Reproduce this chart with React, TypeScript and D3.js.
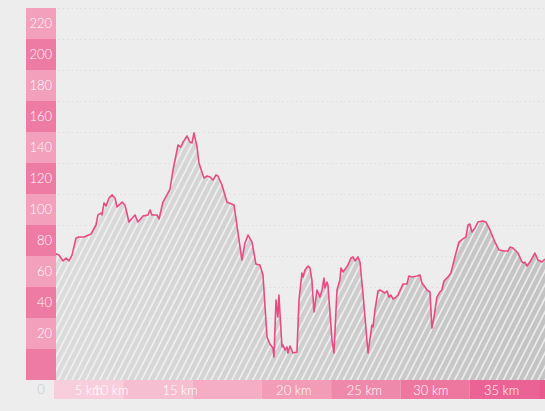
import React from 'react';
import * as d3 from 'd3';

// elevation profile: [distance, elevation]
const profile: [number, number][] = [
  [0, 81.9], [0.36, 80.6], [0.65, 76.8], [0.87, 78.7], [1.08, 76.8], [1.3, 80.6],
  [1.59, 91.6], [1.8, 92.3], [2.16, 92.3], [2.67, 94.2], [3.03, 100], [3.17, 106.5],
  [3.39, 107.7], [3.46, 106.5], [3.61, 114.2], [3.75, 112.3], [3.97, 117.4], [4.18, 119.4],
  [4.4, 117.4], [4.55, 111.6], [4.76, 113.5], [4.91, 114.8], [5.12, 112.9], [5.41, 101.9],
  [5.84, 106.5], [6.06, 101.9], [6.42, 105.8], [6.78, 106.5], [6.93, 109.7], [7.07, 106.5],
  [7.43, 106.5], [7.58, 103.9], [7.86, 114.8], [8.15, 119.4], [8.37, 123.2], [8.59, 135.5],
  [8.95, 151.6], [9.16, 150.3], [9.31, 153.5], [9.6, 157.4], [9.81, 153.5], [9.96, 152.9],
  [10.1, 159.4], [10.32, 150.3], [10.46, 140], [10.82, 130.3], [11.04, 131.6], [11.26, 131],
  [11.47, 129], [11.69, 132.3], [11.83, 131.6], [12.12, 125.8], [12.48, 114.8], [12.99, 112.9],
  [13.56, 77.4], [13.78, 88.4], [14.0, 93.5], [14.29, 89], [14.57, 74.8], [14.86, 74.2],
  [15.08, 67.7], [15.37, 27.7], [15.58, 23.2], [15.8, 20.6], [15.87, 14.8], [16.02, 51.6],
  [16.16, 40.6], [16.23, 54.8], [16.45, 21.3], [16.52, 22.6], [16.67, 19.4], [16.81, 21.3],
  [16.88, 17.4], [17.03, 21.9], [17.24, 17.4], [17.53, 18.1], [17.68, 51.6], [17.89, 69],
  [17.97, 66.5], [18.11, 71], [18.33, 73.5], [18.47, 72.3], [18.61, 64.5], [18.76, 43.9],
  [18.98, 58.1], [19.19, 53.5], [19.34, 58.1], [19.48, 65.8], [19.55, 59.4], [19.7, 63.2],
  [19.77, 61.3], [20.06, 25.8], [20.2, 17.4], [20.42, 58.1], [20.63, 64.5], [20.71, 72.3],
  [20.85, 69.7], [21.07, 72.3], [21.21, 74.2], [21.43, 78.7], [21.57, 79.4], [21.72, 76.8],
  [21.93, 79.4], [22.08, 76.1], [22.29, 56.1], [22.66, 17.4], [22.94, 35.5], [23.02, 34.2],
  [23.16, 45.2], [23.38, 57.4], [23.52, 58.1], [23.88, 56.1], [24.03, 57.4], [24.17, 53.5],
  [24.31, 54.8], [24.46, 52.3], [24.6, 52.9], [24.82, 54.8], [25.18, 61.9], [25.47, 61.9],
  [25.61, 67.1], [25.83, 66.5], [26.19, 67.1], [26.41, 67.7], [26.55, 62.6], [26.77, 60],
  [26.91, 58.1], [27.13, 56.8], [27.27, 33.5], [27.42, 40.6], [27.63, 53.5], [27.85, 56.8],
  [27.99, 58.1], [28.14, 63.9], [28.43, 66.5], [28.64, 69], [28.93, 79.4], [29.22, 89],
  [29.51, 91], [29.73, 92.3], [29.87, 100], [30.01, 100.6], [30.16, 95.5], [30.38, 98.1],
  [30.59, 101.9], [30.95, 102.6], [31.17, 101.9], [31.46, 96.8], [31.82, 89], [32.11, 83.9],
  [32.54, 83.2], [32.76, 83.2], [32.9, 85.8], [33.12, 85.2], [33.48, 81.9], [33.77, 76.1],
  [33.91, 75.5], [33.98, 76.1], [34.13, 73.5], [34.34, 76.1], [34.7, 81.9], [34.92, 77.4],
  [35.21, 76.1], [35.43, 78.1],
];

const yBands = [0, 20, 40, 60, 80, 100, 120, 140, 160, 180, 200, 220];
const xBands = [0, 5, 10, 15, 20, 25, 30, 35];
const kmLabels = ['5 km', '10 km', '15 km', '20 km', '25 km', '30 km', '35 km'];
const kmLabelPos = [2.5, 4.1, 9.1, 17.3, 22.4, 27.2, 32.3];
const xBandColors = ['#f8cedc', '#f6bfd1', '#f4adc4', '#f29cb8', '#ef89ab', '#ed779f', '#eb6394', '#e95a8c'];

const W = 545;
const H = 411;
const left = 54;
const bottom = 380;
const top = 8;

export default function App() {
  const x = d3.scaleLinear().domain([0, 35.43]).range([left, W]);
  const y = d3.scaleLinear().domain([0, 240]).range([bottom, top]);
  const step = y(0) - y(20);

  const area = d3.area<[number, number]>()
    .x((d) => x(d[0]))
    .y0(y(0))
    .y1((d) => y(d[1]));
  const line = d3.line<[number, number]>()
    .x((d) => x(d[0]))
    .y((d) => y(d[1]));

  const font = 'Lato, "Open Sans", sans-serif';

  return (
    <svg width={W} height={H} style={{ position: 'absolute', left: 0, top: 0, display: 'block' }}>
      <defs>
        <linearGradient id="fillGrad" gradientUnits="userSpaceOnUse" x1={left} x2={W} y1={0} y2={0}>
          <stop offset="0" stopColor="#dcdcdc" />
          <stop offset="1" stopColor="#c3c3c3" />
        </linearGradient>
        <pattern id="hatch" patternUnits="userSpaceOnUse" width={6.2} height={10} patternTransform="rotate(27)">
          <line x1={1} y1={0} x2={1} y2={10} stroke="#f4f4f4" strokeWidth={1.4} />
        </pattern>
        <clipPath id="plotClip">
          <rect x={left} y={0} width={W - left} height={bottom} />
        </clipPath>
      </defs>
      <rect x={0} y={0} width={W} height={H} fill="#ededed" />

      {/* dotted grid */}
      {yBands.map((v) => (
        <line key={'g' + v} x1={left} x2={W} y1={y(v + 20) + 0.5} y2={y(v + 20) + 0.5}
          stroke="#d6d6d6" strokeWidth={1.2} strokeDasharray="1,3.4" />
      ))}

      <g clipPath="url(#plotClip)">
        <path d={area(profile) ?? ''} fill="url(#fillGrad)" />
        <path d={area(profile) ?? ''} fill="url(#hatch)" />
        <path d={line(profile) ?? ''} fill="none" stroke="#ea4a83" strokeWidth={1.6} strokeLinejoin="round" />
      </g>

      {/* y-axis bands */}
      {yBands.map((v, i) => (
        <g key={'y' + v}>
          <rect x={26} y={y(v + 20)} width={30} height={step}
            fill={i % 2 === 0 ? '#ee7ba3' : '#f2a0bb'} />
          {v > 0 && (
            <text x={52} y={y(v + 10)} dy="0.35em" textAnchor="end" fill="#ffffff"
              fontFamily={font} fontWeight={300} fontSize={13}>{v}</text>
          )}
        </g>
      ))}

      {/* x-axis bands */}
      {xBands.map((v, i) => {
        const x0 = x(v);
        const x1 = Math.min(x(v + 5), W);
        return (
          <rect key={'x' + v} x={x0} y={bottom} width={x1 - x0} height={19} fill={xBandColors[i]} />
        );
      })}
      {kmLabels.map((t, i) => (
        <text key={t} x={x(kmLabelPos[i])} y={bottom + 10} dy="0.35em" textAnchor="middle"
          fill="#ffffff" fontFamily={font} fontWeight={300} fontSize={13}>{t}</text>
      ))}
      <text x={41} y={bottom + 9} dy="0.35em" textAnchor="middle" fill="#c8c8c8"
        fontFamily={font} fontWeight={300} fontSize={13}>0</text>
    </svg>
  );
}
